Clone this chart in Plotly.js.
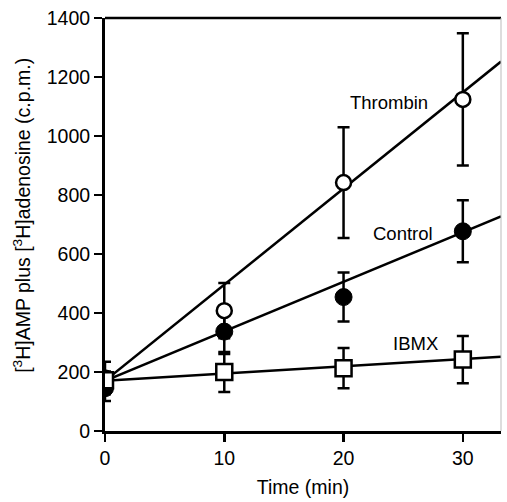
<!DOCTYPE html>
<html>
<head>
<meta charset="utf-8">
<script src="https://cdn.plot.ly/plotly-3.0.1.min.js"></script>
<style>html,body{margin:0;padding:0;background:#fff;}#chart{width:507px;height:502px;}</style>
</head>
<body>
<div id="chart"></div>
<script>
// Data
var time = [0, 10, 20, 30];
var thrombinMean = [180, 408, 842, 1124];
var thrombinErr = [55, 94, 188, 224];
var controlMean = [145, 337, 454, 677];
var controlErr = [43, 76, 83, 105];
var ibmxMean = [172, 200, 213, 242];
var ibmxErr = [30, 68, 68, 80];
// Regression lines: [intercept, slope]
var thrombinFit = [170, 32.6];
var controlFit = [170, 16.8];
var ibmxFit = [170, 2.47];
var fitX = [0, 33.2];

function fitY(fit) { return fitX.map(function (x) { return fit[0] + fit[1] * x; }); }

var FONT = 'Liberation Sans, Arial, sans-serif';
var lineStyle = {color: '#000', width: 2.5};

var traces = [
  {x: fitX, y: fitY(thrombinFit), mode: 'lines', line: lineStyle, hoverinfo: 'skip'},
  {x: fitX, y: fitY(controlFit), mode: 'lines', line: lineStyle, hoverinfo: 'skip'},
  {x: fitX, y: fitY(ibmxFit), mode: 'lines', line: lineStyle, hoverinfo: 'skip'},
  {x: time, y: controlMean, mode: 'markers',
   error_y: {type: 'data', array: controlErr, visible: true, color: '#000', thickness: 2.5, width: 6},
   marker: {symbol: 'circle', size: 17, color: '#000', line: {color: '#000', width: 1}}},
  {x: time, y: thrombinMean, mode: 'markers',
   error_y: {type: 'data', array: thrombinErr, visible: true, color: '#000', thickness: 2.5, width: 6},
   marker: {symbol: 'circle', size: 15, color: '#fff', line: {color: '#000', width: 2.5}}},
  {x: time, y: ibmxMean, mode: 'markers',
   error_y: {type: 'data', array: ibmxErr, visible: true, color: '#000', thickness: 2.5, width: 6},
   marker: {symbol: 'square', size: 16, color: '#fff', line: {color: '#000', width: 2.5}}}
];

var layout = {
  width: 507, height: 502,
  margin: {l: 105, r: 6, t: 18, b: 71},
  paper_bgcolor: '#fff', plot_bgcolor: '#fff',
  showlegend: false,
  font: {family: FONT, size: 19, color: '#000'},
  xaxis: {
    range: [0, 33.2], tickvals: [0, 10, 20, 30], ticks: 'outside', ticklen: 8, tickwidth: 2.5,
    tickcolor: '#000', showline: true, linewidth: 3, linecolor: '#000', showgrid: false, zeroline: false,
    tickfont: {family: FONT, size: 19.5, color: '#000'},
    title: {text: 'Time (min)', font: {family: FONT, size: 19.5, color: '#000'}, standoff: 12}
  },
  yaxis: {
    range: [0, 1400], tickvals: [0, 200, 400, 600, 800, 1000, 1200, 1400], ticks: 'outside', ticklen: 8, tickwidth: 2.5,
    tickcolor: '#000', showline: true, linewidth: 3, linecolor: '#000', showgrid: false, zeroline: false,
    tickfont: {family: FONT, size: 19.5, color: '#000'}
  },
  shapes: [
    {type: 'line', xref: 'paper', yref: 'paper', x0: 0, x1: 1, y0: 1, y1: 1, line: {color: '#000', width: 2.5}},
    {type: 'line', xref: 'paper', yref: 'paper', x0: 1, x1: 1, y0: 0, y1: 1, line: {color: '#bbb', width: 1}}
  ],
  annotations: [
    {text: '[<sup>3</sup>H]AMP plus [<sup>3</sup>H]adenosine (c.p.m.)', xref: 'paper', yref: 'paper',
     x: -0.21, y: 0.523, textangle: -90, showarrow: false, xanchor: 'center', yanchor: 'middle',
     font: {family: FONT, size: 19.5, color: '#000'}},
    {text: 'Thrombin', x: 23.8, y: 1112, xref: 'x', yref: 'y', showarrow: false, font: {family: FONT, size: 18.5, color: '#000'}},
    {text: 'Control', x: 25.0, y: 671, xref: 'x', yref: 'y', showarrow: false, font: {family: FONT, size: 18.5, color: '#000'}},
    {text: 'IBMX', x: 26.0, y: 298, xref: 'x', yref: 'y', showarrow: false, font: {family: FONT, size: 18.5, color: '#000'}}
  ]
};

Plotly.newPlot('chart', traces, layout, {displayModeBar: false, staticPlot: true});
</script>
</body>
</html>
